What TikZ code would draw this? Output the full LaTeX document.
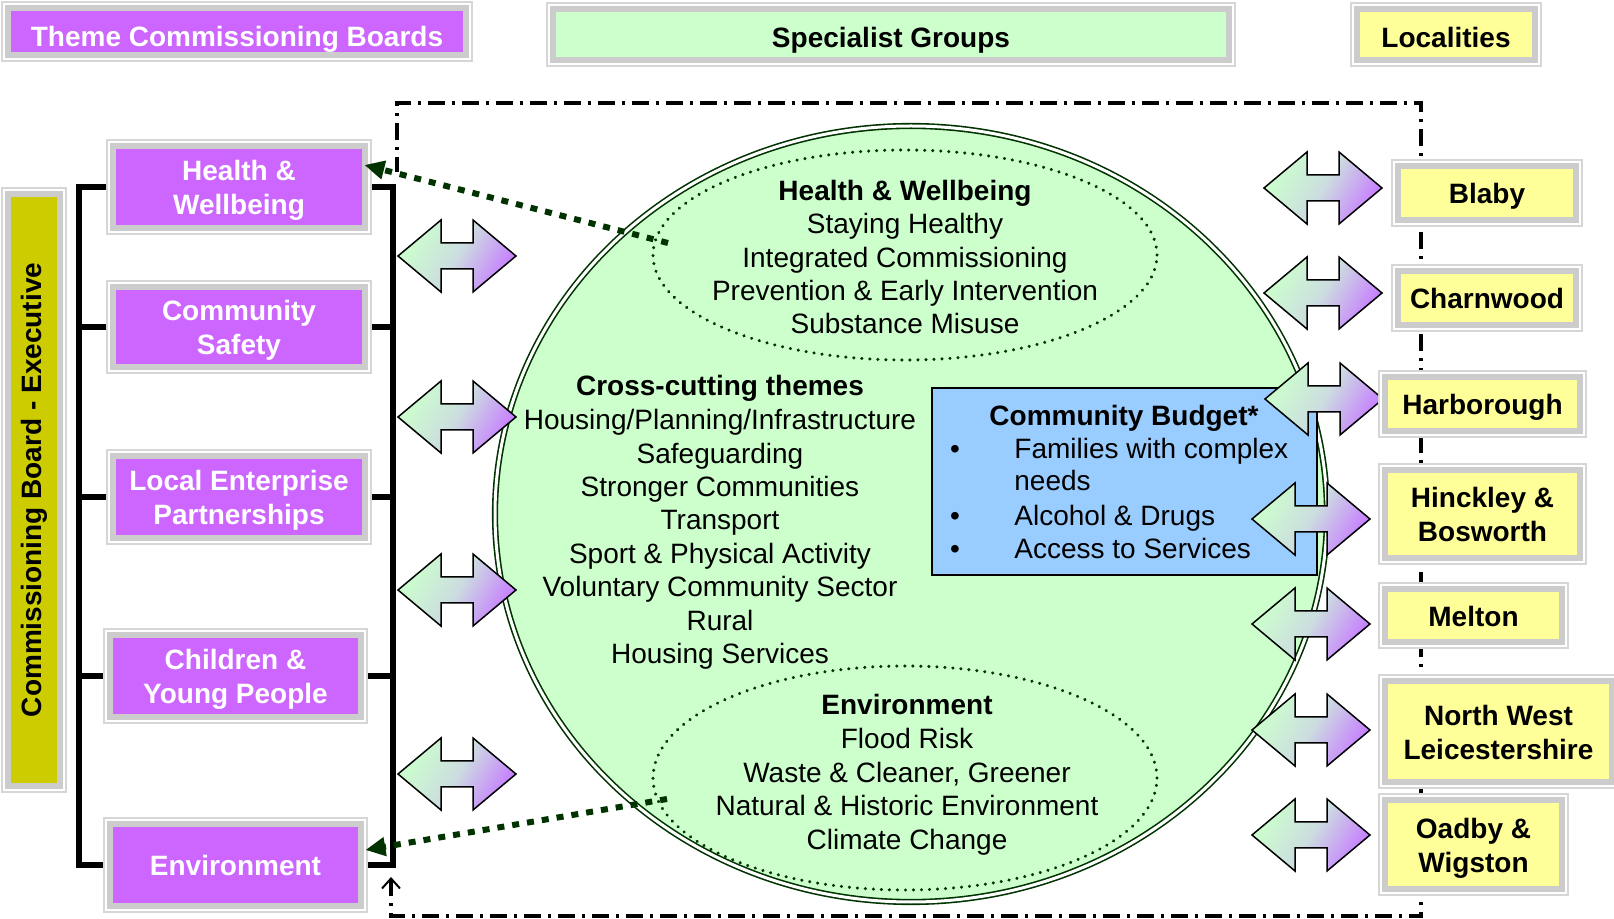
\documentclass[tikz,border=0pt]{standalone}
\usepackage{fontspec}
\setmainfont{Liberation Sans}
\usetikzlibrary{arrows.meta,shapes.geometric}
\definecolor{purp}{HTML}{CC66FF}
\definecolor{lgreen}{HTML}{CCFFCC}
\definecolor{yel}{HTML}{FFFF99}
\definecolor{olive}{HTML}{CCCC00}
\definecolor{band}{HTML}{CCCCCC}
\definecolor{outl}{HTML}{D6D6D6}
\definecolor{cbblue}{HTML}{99CCFF}
\definecolor{dkgreen}{HTML}{003300}
\definecolor{arrp}{HTML}{C77DFF}
\definecolor{midc}{HTML}{CCDDE0}
\tikzset{
  txt/.style={inner sep=0pt, font=\fontsize{14}{17}\selectfont},
  btxt/.style={inner sep=0pt, font=\fontsize{14}{17}\selectfont\bfseries},
  boxline/.style={draw=outl, line width=1pt},
  frame/.style={draw=black, line width=2pt, dash pattern=on 8.5pt off 3.5pt on 1.5pt off 3.5pt},
  brk/.style={draw=black, line width=3pt, line join=miter},
  bigell/.style={ellipse, fill=lgreen, draw=dkgreen, double=white, double distance=1.5pt, line width=0.8pt, inner sep=0pt, minimum width=416pt, minimum height=388pt},
  dotell/.style={ellipse, draw=dkgreen, line width=1.7pt, dash pattern=on 0.01pt off 4pt, line cap=round, inner sep=0pt},
  barr/.style={draw=black, line width=0.75pt, line join=miter, top color=lgreen, bottom color=arrp, middle color=midc, shading angle=60},
  dotarr/.style={draw=dkgreen, line width=3pt, dash pattern=on 3.5pt off 4pt, -{Triangle[length=10pt,width=9pt]}},
}
% #1 name, #2 x1, #3 y1, #4 x2, #5 y2, #6 fill, #7 label options, #8 text, #9 lines
\newcommand\gbox[9]{%
  \fill[white] (#2,#3) rectangle (#4,#5);
  \draw[boxline] (#2+1,#3+1) rectangle (#4-1,#5-1);
  \fill[band] (#2+4,#3+4) rectangle (#4-4,#5-4);
  \fill[#6] (#2+10,#3+10) rectangle (#4-10,#5-10);
  \node[inner sep=0pt, minimum width={(#4-#2)*0.5pt}, minimum height={(#5-#3)*0.5pt}] (#1) at ({(#2+#4)/2},{(#3+#5)/2}) {};
  \node[btxt, align=center, anchor=north, #7] (#1t) at ({(#2+#4)/2},{(#3+#5)/2-10-(#9-1)*17}) {#8};
}
\newcommand\tline[4]{\node[txt, anchor=base] (#1) at (#2,#3) {#4};}
\newcommand\barrow[2]{\draw[barr] (#1,#2) -- ++(43,-36) -- ++(0,23) -- ++(32,0) -- ++(0,-23) -- ++(43,36) -- ++(-43,36) -- ++(0,-23) -- ++(-32,0) -- ++(0,23) -- cycle;}
\begin{document}
\begin{tikzpicture}[x=0.5pt,y=-0.5pt]
\useasboundingbox (0,0) rectangle (1614,919);
% dash-dot frame
\draw[frame, {Straight Barb[length=5pt,width=9pt,line width=1pt]}-] (391,877) -- (391,916) -- (1421,916) -- (1421,103) -- (397,103) -- (397,172);

% big ellipse
\node[bigell] (big) at (911,514) {};
\node[dotell, minimum width=252pt, minimum height=105pt] (hwell) at (905,255) {};
\node[dotell, minimum width=252pt, minimum height=112pt] (envell) at (905,778) {};

\tline{hw0}{905}{201}{\bfseries Health \& Wellbeing}
\tline{hw1}{905}{234}{Staying Healthy}
\tline{hw2}{905}{268}{Integrated Commissioning}
\tline{hw3}{905}{301}{Prevention \& Early Intervention}
\tline{hw4}{905}{334}{Substance Misuse}

\tline{cc0}{720}{396}{\bfseries Cross-cutting themes}
\tline{cc1}{720}{430}{Housing/Planning/Infrastructure}
\tline{cc2}{720}{464}{Safeguarding}
\tline{cc3}{720}{497}{Stronger Communities}
\tline{cc4}{720}{530}{Transport}
\tline{cc5}{720}{564}{Sport \& Physical Activity}
\tline{cc6}{720}{597}{Voluntary Community Sector}
\tline{cc7}{720}{631}{Rural}
\tline{cc8}{720}{664}{Housing Services}

\tline{ev0}{907}{715}{\bfseries Environment}
\tline{ev1}{907}{749}{Flood Risk}
\tline{ev2}{907}{783}{Waste \& Cleaner, Greener}
\tline{ev3}{907}{816}{Natural \& Historic Environment}
\tline{ev4}{907}{849}{Climate Change}

% community budget
\node[draw=black, line width=0.75pt, fill=cbblue, inner sep=0pt, minimum width=192.5pt, minimum height=93.5pt] (cb) at (1124.5,481.5) {};
\tline{cbt}{1124}{426}{\bfseries Community Budget*}
\tline{cbb1}{955}{459}{\textbullet}
\tline{cbb2}{955}{526}{\textbullet}
\tline{cbb3}{955}{559}{\textbullet}
\node[txt, anchor=base west] (cbi1) at (1014,459) {Families with complex};
\node[txt, anchor=base west] (cbi2) at (1014,491) {needs};
\node[txt, anchor=base west] (cbi3) at (1014,526) {Alcohol \& Drugs};
\node[txt, anchor=base west] (cbi4) at (1014,559) {Access to Services};

% block arrows
\barrow{398}{256}
\barrow{398}{417}
\barrow{398}{590}
\barrow{398}{774}
\barrow{1264}{188}
\barrow{1264}{293}
\barrow{1265}{399}
\barrow{1252}{519}
\barrow{1252}{624}
\barrow{1252}{730}
\barrow{1252}{835}

% boxes
\gbox{tcb}{1}{1}{473}{62}{purp}{text=white, yshift=-2pt}{Theme Commissioning Boards}{1}
\gbox{spg}{546}{2}{1236}{67}{lgreen}{text=black, yshift=-1pt}{Specialist Groups}{1}
\gbox{loc}{1350}{2}{1542}{67}{yel}{text=black, yshift=-1pt}{Localities}{1}
\gbox{cbx}{1}{187}{67}{793}{olive}{text=black}{}{1}
\node[btxt, rotate=90] (cbtext) at (34,490) {Commissioning Board - Executive};
\gbox{hw}{106}{139}{372}{235}{purp}{text=white}{Health \&\\Wellbeing}{2}
\gbox{cs}{106}{280}{372}{374}{purp}{text=white}{Community\\Safety}{2}
\gbox{lep}{106}{449}{372}{545}{purp}{text=white}{Local Enterprise\\Partnerships}{2}
\gbox{cyp}{103}{628}{368}{724}{purp}{text=white}{Children \&\\Young People}{2}
\gbox{env}{103}{817}{368}{913}{purp}{text=white}{Environment}{1}
\gbox{blaby}{1391}{159}{1583}{227}{yel}{text=black}{Blaby}{1}
\gbox{charn}{1391}{264}{1583}{332}{yel}{text=black}{Charnwood}{1}
\gbox{harb}{1378}{370}{1587}{438}{yel}{text=black}{Harborough}{1}
\gbox{hinck}{1378}{463}{1587}{565}{yel}{text=black}{Hinckley \&\\Bosworth}{2}
\gbox{melton}{1378}{582}{1569}{649}{yel}{text=black}{Melton}{1}
\gbox{nwl}{1378}{674}{1619}{789}{yel}{text=black}{North West\\Leicestershire}{2}
\gbox{oadby}{1378}{793}{1569}{896}{yel}{text=black}{Oadby \&\\Wigston}{2}

% bracket
\coordinate (lbar) at (79,185);
\coordinate (rbar) at (393,185);
\draw[brk] (hw.west) -- (hw.west -| lbar) -- (env.west -| lbar) -- (env.west);
\draw[brk] (hw.east) -- (hw.east -| rbar) -- (env.east -| rbar) -- (env.east);
\foreach \n in {cs,lep,cyp}{
  \draw[brk] (\n.west) -- (\n.west -| lbar);
  \draw[brk] (\n.east) -- (\n.east -| rbar);
}

% dotted connectors
\coordinate (hwS) at (668,243);
\coordinate (envS) at (667,799);
\draw[dotarr] (hwS) -- ([xshift=-4pt,yshift=11pt]hw.east);
\draw[dotarr] (envS) -- ([xshift=-1.5pt,yshift=7.5pt]env.east);
\end{tikzpicture}
\end{document}
